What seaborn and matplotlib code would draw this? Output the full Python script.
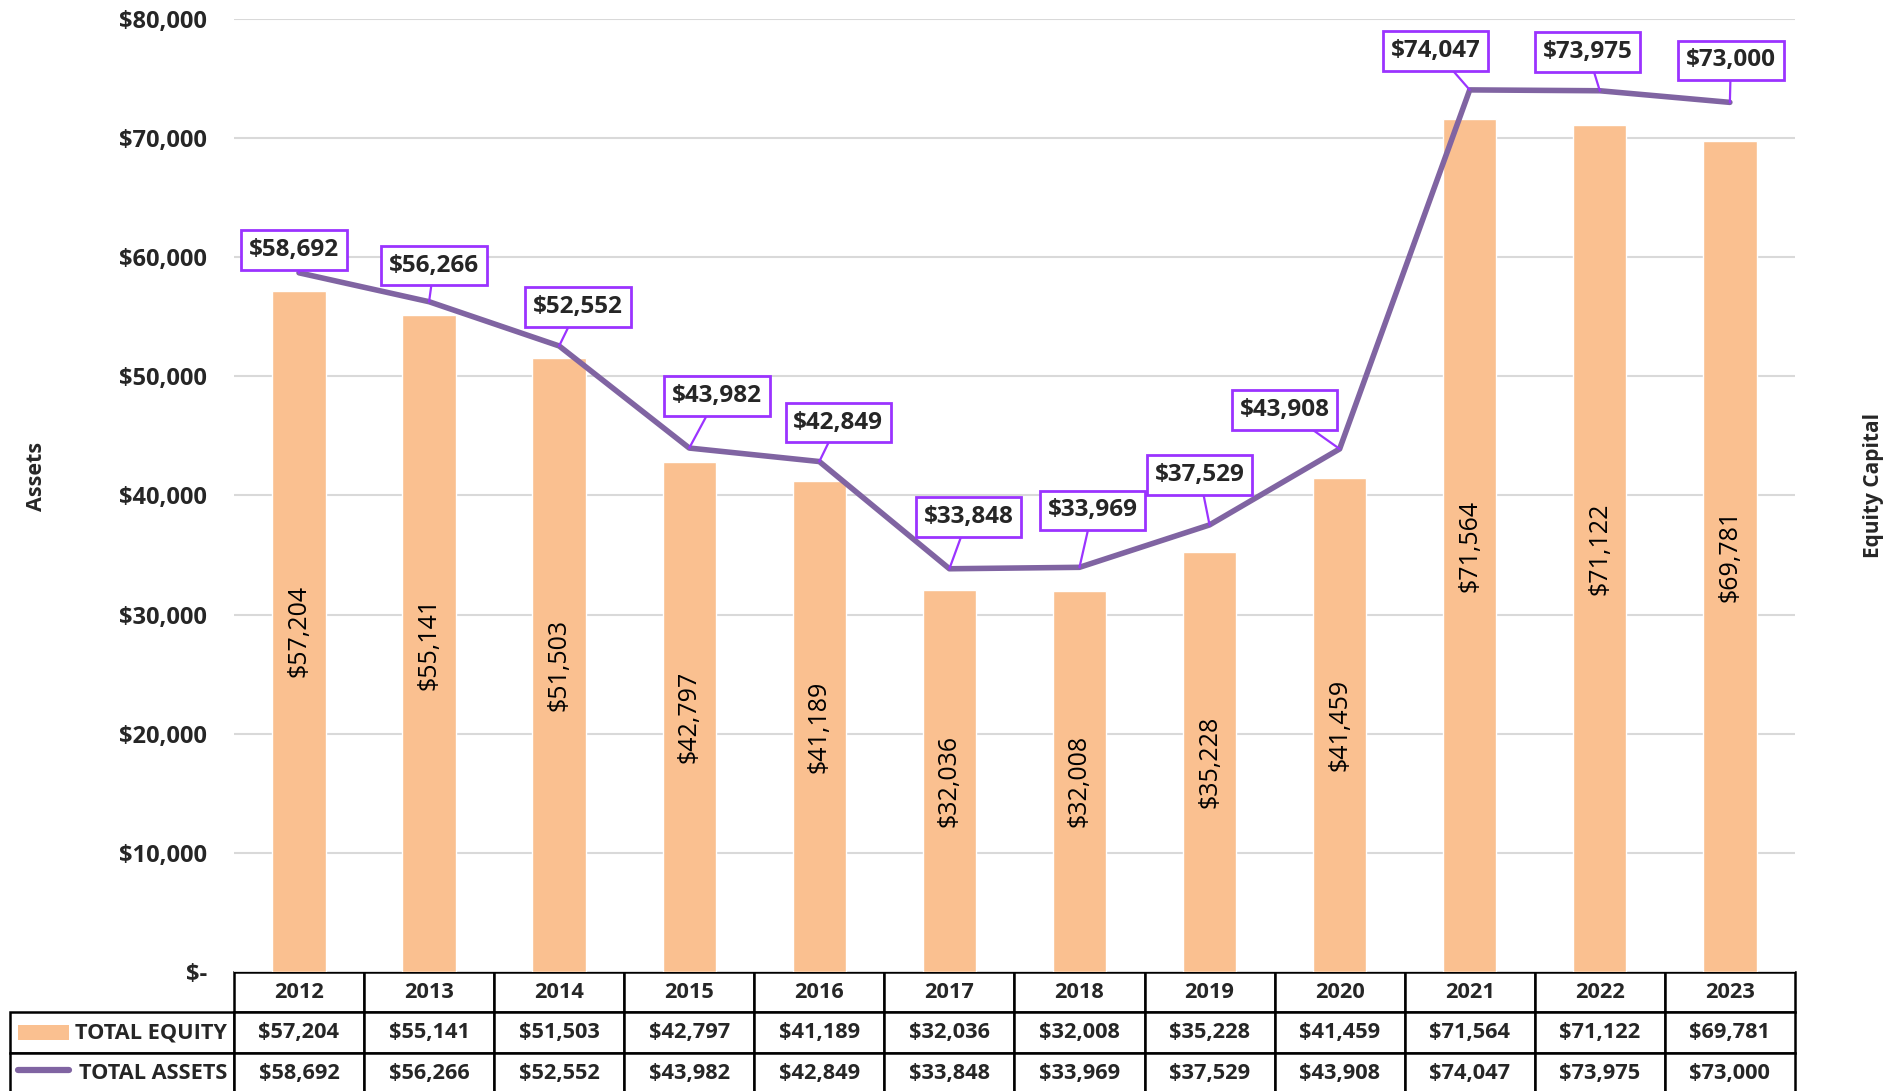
import numpy as np
import pandas as pd
import seaborn as sns
import matplotlib
matplotlib.use("Agg")
import matplotlib.pyplot as plt
from matplotlib import font_manager as fm
from matplotlib.table import Table
from matplotlib.patches import Rectangle
from matplotlib.lines import Line2D
from matplotlib.ticker import FuncFormatter

years = ['2012', '2013', '2014', '2015', '2016', '2017', '2018', '2019', '2020', '2021', '2022', '2023']
equity = [57204, 55141, 51503, 42797, 41189, 32036, 32008, 35228, 41459, 71564, 71122, 69781]
assets = [58692, 56266, 52552, 43982, 42849, 33848, 33969, 37529, 43908, 74047, 73975, 73000]

# callout offsets (pixels) for line labels
callout_dx = [-5, 5, 19, 28, 19, 19, 13, -10, -55, -34, -12, 1]
callout_dy = [23, 36, 39, 52, 39, 52, 57, 50, 39, 39, 39, 42]

BAR_COLOR = '#FAC090'
LINE_COLOR = '#8064A2'
CALLOUT = '#9B33FF'

sns.set_theme(style='white')


def has_bold(fam):
    for f in fm.fontManager.ttflist:
        if f.name == fam and (f.weight in ('bold', 700) or str(f.weight) == '700'):
            return True
    return False


FAMILY = 'DejaVu Sans'
for cand in ['Open Sans', 'Noto Sans', 'Lato', 'Roboto', 'Liberation Sans']:
    if has_bold(cand):
        FAMILY = cand
        break
plt.rcParams['font.family'] = [FAMILY, 'DejaVu Sans']

fig = plt.figure(figsize=(19.02, 10.91), dpi=100)
ax = fig.add_axes([0.1230, 0.1091, 0.8207, 0.8735])

df = pd.DataFrame({'Year': years, 'Equity': equity, 'Assets': assets})
sns.barplot(data=df, x='Year', y='Equity', color=BAR_COLOR, saturation=1,
            width=0.41, ax=ax, zorder=2)
sns.lineplot(data=df, x='Year', y='Assets', color=LINE_COLOR, lw=4, ax=ax,
             sort=False, zorder=3, solid_capstyle='round')

ax.set_xlim(-0.5, 11.5)
ax.set_ylim(0, 80000)
ax.set_yticks(np.arange(0, 80001, 10000))
ax.yaxis.set_major_formatter(FuncFormatter(lambda v, p: '$-' if v == 0 else f'${v:,.0f}'))
ax.tick_params(axis='y', labelsize=17, pad=19.5, length=0)
for lab in ax.get_yticklabels():
    lab.set_fontweight('bold')
ax.tick_params(axis='x', labelbottom=False, length=0)
ax.set_xlabel('')
ax.set_ylabel('')
ax.grid(axis='y', color='#D9D9D9', lw=1.5, zorder=0)
ax.set_axisbelow(True)
for s in ax.spines.values():
    s.set_visible(False)

# bar labels
ax.bar_label(ax.containers[0], labels=[f'${v:,}' for v in equity], label_type='center',
             rotation=90, fontsize=18, color='black')

# callouts
for i, v in enumerate(assets):
    ax.annotate(f'${v:,}', xy=(i, v), xytext=(callout_dx[i], callout_dy[i]),
                textcoords='offset pixels', ha='center', va='center',
                fontsize=17.5, fontweight='bold', zorder=5,
                bbox=dict(boxstyle='square,pad=0.32', fc='white', ec=CALLOUT, lw=2),
                arrowprops=dict(arrowstyle='-', color=CALLOUT, lw=1.6,
                                shrinkA=0, shrinkB=0))

# data table
tb = Table(ax, bbox=[-0.1435, -0.1275, 1.1435, 0.1275])
w0, wc, h = 224, 130.1, 1
for j, y in enumerate(years):
    tb.add_cell(0, j + 1, wc, h, text=y, loc='center')
tb.add_cell(1, 0, w0, h, text='TOTAL EQUITY', loc='right')
tb.add_cell(2, 0, w0, h, text='TOTAL ASSETS', loc='right')
for j in range(len(years)):
    tb.add_cell(1, j + 1, wc, h, text=f'${equity[j]:,}', loc='center')
    tb.add_cell(2, j + 1, wc, h, text=f'${assets[j]:,}', loc='center')
tb.auto_set_font_size(False)
tb.set_fontsize(15.7)
for (r, c), cell in tb.get_celld().items():
    cell.set_edgecolor('black')
    cell.set_linewidth(1.8)
    cell.get_text().set_fontweight('bold')
    if c == 0:
        cell.PAD = 0.03
tb.set_clip_on(False)
ax.add_table(tb)

# legend swatches in the table
fig.add_artist(Rectangle((0.0095, 0.0467), 0.0268, 0.0138, transform=fig.transFigure,
                         fc=BAR_COLOR, ec='none'))
fig.add_artist(Line2D([0.0095, 0.0363], [0.0188, 0.0188], transform=fig.transFigure,
                      color=LINE_COLOR, lw=4.5, solid_capstyle='round'))

fig.text(0.019, 0.563, 'Assets', rotation=90, ha='center', va='center',
         fontsize=15.5, fontweight='bold')
fig.text(0.985, 0.555, 'Equity Capital', rotation=90, ha='center', va='center',
         fontsize=15, fontweight='bold')

fig.savefig('out.png', dpi=100)
